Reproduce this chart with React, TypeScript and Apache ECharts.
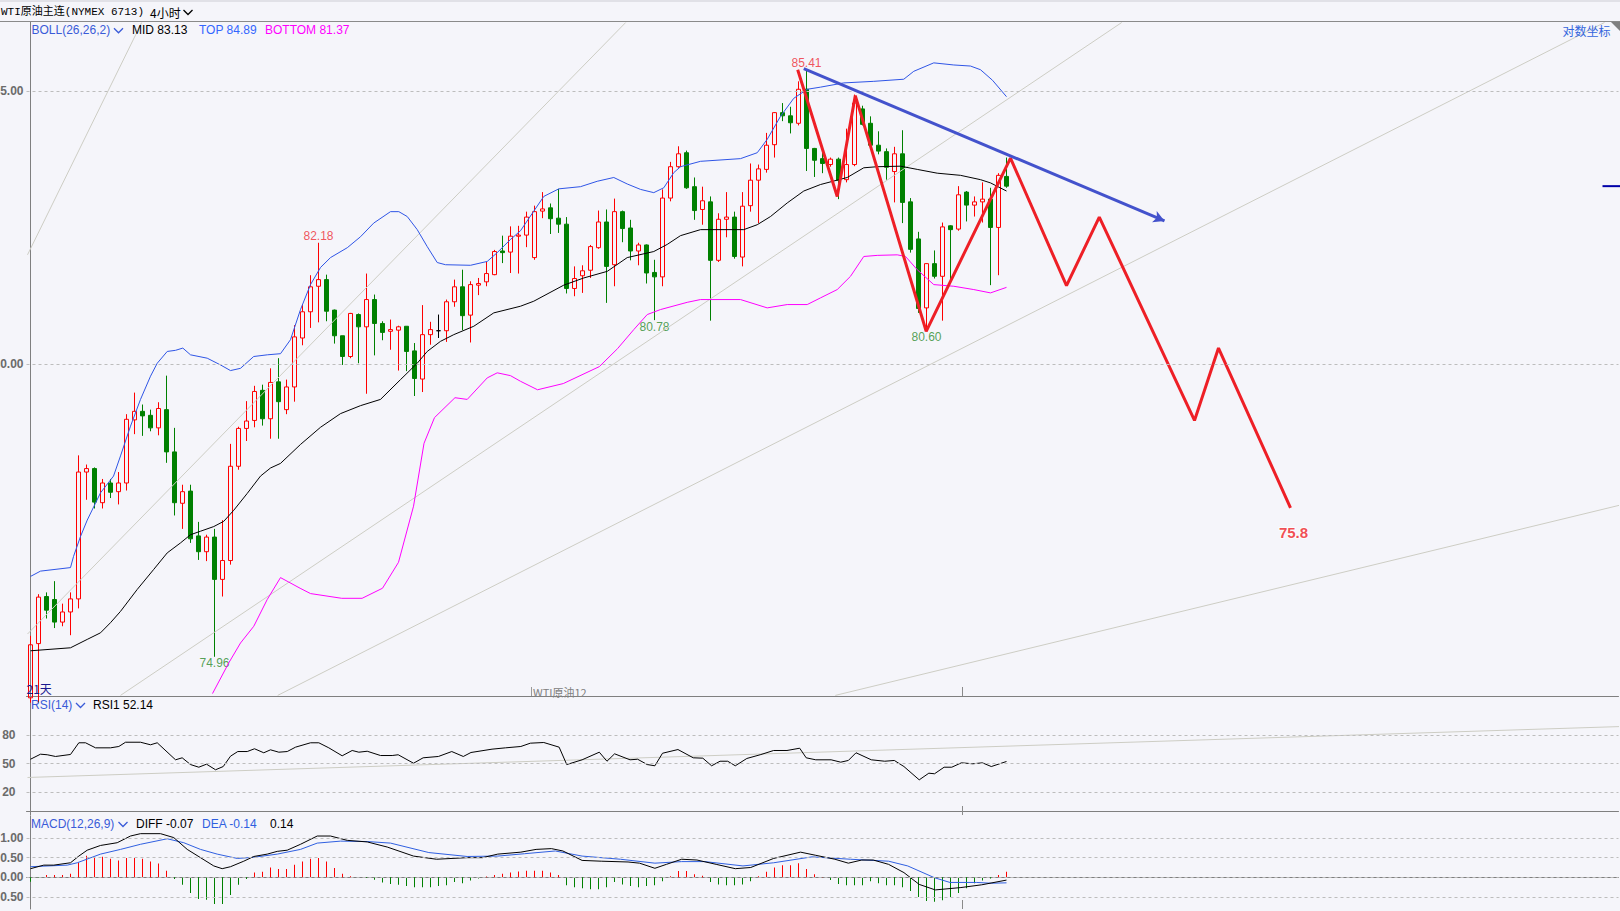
import React, { useEffect, useRef } from "react";
import * as echarts from "echarts";

// ---------- axis setup ----------
const N_SLOTS = 199; // candle slots across the window (8px each)
const PRICE_AXIS = [74.31, 86.31]; // visible price range (log scale)
const RSI_AXIS = [-4.2, 120];
const MACD_AXIS = [-0.805, 1.559];
const PRICE_GRID = [85, 80];
const RSI_GRID = [80, 50, 20];
const MACD_GRID = [1, 0.5, 0, -0.5];

// ---------- candles (4h) ----------
const OPEN = [74.28,75.18,75.97,75.92,75.54,75.71,75.93,78.10,78.16,77.57,77.91,77.76,77.91,79.01,79.16,79.09,78.87,79.19,78.45,77.56,
77.77,77.00,76.73,76.98,76.26,76.58,78.20,78.86,79.00,79.53,79.03,79.68,79.19,79.59,80.46,80.93,81.39,81.51,80.96,80.50,
80.13,80.88,80.66,81.15,80.72,80.58,80.60,80.67,80.23,79.73,80.52,80.59,80.59,81.11,81.38,80.87,81.41,81.47,81.60,82.03,
82.01,82.30,82.32,81.91,82.76,82.82,82.63,82.52,81.35,81.58,81.68,82.09,82.56,81.78,82.75,82.45,82.03,82.14,81.64,81.56,
83.00,83.58,83.84,83.21,82.79,82.93,81.86,82.61,82.65,81.92,82.86,83.33,83.53,83.99,84.59,84.53,84.39,85.03,83.92,83.73,
83.62,83.72,83.34,83.62,84.66,84.39,83.98,83.86,83.49,83.82,82.93,82.25,81.00,81.80,81.57,82.49,82.43,83.11,82.87,82.93,
82.98,82.46,83.40];
const CLOSE = [75.16,75.96,75.74,75.54,75.71,75.93,78.10,78.16,77.58,77.91,77.75,77.91,79.02,79.16,79.08,78.87,79.21,78.45,77.57,77.76,
76.95,76.73,76.98,76.26,76.58,78.20,78.86,78.99,79.51,79.03,79.67,79.33,79.59,80.48,80.93,81.38,81.51,80.94,80.50,80.13,
80.90,80.66,81.15,80.72,80.56,80.61,80.66,80.22,79.74,80.52,80.61,80.59,81.11,81.38,80.86,81.42,81.44,81.62,82.02,82.00,
82.30,82.32,82.65,82.75,82.80,82.62,82.52,81.35,81.53,81.67,82.11,82.56,81.75,82.75,82.44,82.03,82.14,81.63,81.56,83.00,
83.58,83.82,83.19,82.77,82.95,81.86,82.61,82.65,81.93,82.85,83.33,83.54,83.98,84.59,84.53,84.40,85.03,83.92,83.70,83.64,
83.72,83.33,83.62,84.77,84.37,83.98,83.87,83.57,83.82,82.92,82.06,80.99,81.80,81.57,82.47,82.42,83.06,82.87,82.93,82.98,
82.46,83.42,83.22];
const LOW = [74.20,74.20,75.60,75.44,75.47,75.32,75.77,77.62,77.47,77.47,77.65,77.54,77.78,78.76,78.73,78.81,78.74,78.26,77.35,77.12,
76.88,76.59,76.57,74.96,75.97,76.51,78.14,78.64,78.88,78.91,78.68,78.68,79.11,79.33,80.33,80.64,80.74,80.76,80.36,79.98,
80.10,80.01,79.47,80.15,80.42,80.25,79.88,79.87,79.43,79.50,80.34,80.46,80.39,81.02,80.60,80.38,81.23,81.39,81.59,81.81,
81.63,81.62,82.10,81.87,82.63,82.34,82.36,81.26,81.21,81.27,81.54,82.07,81.09,81.39,82.19,81.86,81.77,81.44,80.78,81.39,
82.94,83.56,83.17,82.60,82.51,80.77,81.83,82.28,81.89,81.75,82.75,82.54,83.47,83.75,84.43,84.20,84.35,83.50,83.39,83.46,
83.58,82.98,83.29,83.59,84.35,83.90,83.81,83.34,82.92,82.54,82.00,80.91,80.60,81.53,80.77,81.45,82.40,82.57,82.66,82.55,
81.41,81.59,83.19];
const HIGH = [75.31,76.01,76.04,76.23,75.85,76.04,78.39,78.23,78.18,77.98,77.98,78.10,79.11,79.49,79.28,79.19,79.32,79.79,78.87,77.88,
77.88,77.24,77.02,77.12,77.27,78.59,78.89,79.34,79.61,79.63,79.92,80.10,79.72,80.69,81.05,81.59,82.18,81.60,80.97,80.50,
80.91,80.90,81.62,81.24,80.76,80.79,80.68,80.67,80.37,81.05,80.75,80.88,81.15,81.51,81.69,81.48,81.54,81.83,82.05,82.31,
82.48,82.49,82.75,82.86,83.11,82.90,83.17,82.65,81.75,81.77,82.14,82.77,82.79,82.99,82.77,82.60,82.18,82.15,81.87,83.16,
83.67,83.96,83.88,83.38,83.21,83.03,82.72,83.11,82.75,83.11,83.64,83.62,84.21,84.60,84.77,84.70,85.18,85.41,83.93,83.87,
83.75,83.75,84.29,84.93,84.72,84.52,84.24,83.92,83.95,84.26,83.00,82.38,81.81,82.04,82.55,82.50,83.22,83.13,83.03,83.29,
83.19,83.46,83.75];
const DOJI_INDEX = [51];

// ---------- BOLL(26,26,2): [candle index, price] ----------
const BOLL_UP = [[0,76.31],[1.25,76.40],[5,76.46],[5.38,76.65],[6.25,76.99],[7.09,77.27],[8.75,77.74],[10.38,78.03],[11.25,78.38],[12.5,78.90],
[13.75,79.37],[15,79.78],[15.84,80.01],[17.09,80.22],[18.13,80.24],[19.04,80.28],[20,80.16],[22.09,80.10],[23.75,79.98],[25,79.88],
[26.25,79.92],[27.9,80.13],[29.6,80.16],[31.25,80.18],[32.5,80.43],[33.75,80.97],[35,81.42],[36.25,81.73],[37.5,81.91],[39.6,82.09],
[41.25,82.29],[42.9,82.54],[45,82.75],[46.04,82.75],[47.09,82.66],[48.34,82.42],[49.59,82.11],[50.84,81.82],[51.88,81.78],[55,81.77],
[57.09,81.84],[58.34,82.00],[60,82.24],[61.25,82.40],[64.16,83.03],[66.04,83.17],[68.75,83.21],[70.84,83.31],[72.91,83.38],[74.59,83.26],
[76.25,83.16],[77.91,83.10],[79.16,83.19],[80.41,83.47],[81.25,83.58],[83.75,83.68],[88.75,83.73],[90.84,83.84],[92.09,84.09],[93.75,84.52],
[95.41,84.86],[97.09,85.03],[98.75,85.07],[101.66,85.15],[105.41,85.18],[109.16,85.22],[110.41,85.37],[112.91,85.53],[115.41,85.49],[117.5,85.47],
[118.75,85.40],[120.25,85.20],[122,84.89]];
const BOLL_MID = [[0,75.06],[5,75.11],[7.09,75.25],[8.75,75.36],[10,75.53],[11.25,75.72],[13.34,76.09],[15.41,76.43],[17.09,76.71],[18.75,76.88],
[20,77.02],[21.25,77.08],[22.91,77.16],[24.16,77.25],[25.41,77.44],[27.09,77.73],[28.75,78.03],[30,78.17],[31.25,78.25],[33.75,78.58],
[36.25,78.88],[38.75,79.12],[41.25,79.26],[43.75,79.37],[46.25,79.72],[48.34,80.01],[49.59,80.22],[51.25,80.40],[52.91,80.52],[55.41,80.67],
[57.91,80.91],[61.25,81.03],[62.91,81.12],[66.66,81.41],[69.16,81.54],[72.09,81.66],[74.59,81.91],[77.91,82.02],[79.59,82.15],[81.25,82.31],
[83.75,82.42],[89.16,82.42],[90.84,82.51],[92.5,82.66],[94.59,82.91],[96.66,83.13],[98.75,83.25],[102.09,83.38],[104.16,83.56],[105.84,83.58],
[108.75,83.59],[110.84,83.53],[113.34,83.46],[116.25,83.42],[118.75,83.34],[120,83.28],[122,83.13]];
const BOLL_LOW = [[22.75,74.35],[24.79,74.86],[26.25,75.19],[27.91,75.47],[29.59,75.92],[31.25,76.29],[33.7,76.11],[35,76.02],[38.9,75.94],[41.45,75.94],
[44,76.11],[46,76.55],[47.88,77.51],[49.19,78.60],[50.5,79.05],[53.06,79.40],[54.59,79.37],[57.09,79.75],[58.34,79.84],[60,79.79],
[61.25,79.69],[63.38,79.54],[66.6,79.65],[71.1,79.95],[73.38,80.27],[75.41,80.61],[77.09,80.88],[78.75,80.97],[82.09,81.10],[83.75,81.15],
[88.75,81.15],[92.09,81.00],[94.59,81.06],[97.09,81.06],[98.75,81.18],[100.84,81.33],[102.5,81.57],[104.16,81.93],[105.84,81.95],[108.34,81.96],
[109.38,81.93],[110.84,81.69],[112.91,81.42],[115.41,81.39],[117.91,81.33],[120,81.27],[122,81.37]];

// ---------- RSI(14) ----------
const RSI = [[0,54.5],[1.25,59.8],[2.09,59.2],[3.13,57.4],[5,59.5],[6.04,71.8],[6.88,71.8],[8.13,66.5],[10,66.5],[11.04,67.9],
[11.88,72.4],[13.75,72.4],[15,69.7],[15.84,71.8],[18.13,53.9],[18.96,56.0],[20,48.9],[21.04,46.1],[22,49.3],[23.13,43.4],
[24.09,46.8],[25,57.7],[25.91,62.6],[27.09,62.6],[28,65.5],[29.16,61.3],[30,64.4],[31.04,61.9],[32.09,62.6],[33.13,67.2],
[35,71.8],[36.04,71.8],[37.29,66.5],[38.96,58.1],[40.21,63.7],[41.04,61.9],[42.09,62.9],[43.75,58.4],[45.21,58.4],[45.96,59.2],
[47.88,50.3],[49.08,56.0],[50.99,57.4],[52.66,62.6],[54.1,57.4],[55.06,61.6],[57.69,65.1],[59.38,66.5],[61.29,67.9],[62.48,71.4],
[64.16,72.1],[66.08,67.2],[67.03,48.9],[68.95,53.9],[71.1,61.9],[72.06,52.4],[73.01,60.2],[74.94,53.9],[75.89,54.5],[77.09,48.9],
[78.05,47.6],[79,60.8],[80.93,64.7],[82.84,56.0],[84.04,55.6],[85.14,47.6],[86.19,52.4],[87.15,52.4],[88.1,47.6],[89.54,55.3],
[91.21,59.2],[92.89,63.7],[94.56,63.7],[96.15,66.1],[96.96,56.0],[98.16,53.9],[100.08,53.9],[101.28,51.4],[102.23,53.2],[103.19,61.3],
[105.1,53.9],[106.78,52.4],[107.98,53.2],[109.18,46.8],[111.09,32.8],[112.29,39.8],[113,39.2],[114.2,46.1],[115.16,46.1],[116.36,50.7],
[117.79,49.7],[118.99,50.7],[120.1,46.8],[122,52.14]];

// ---------- MACD(12,26,9) ----------
const DIFF = [[0,0.22],[1.66,0.31],[2.91,0.31],[5,0.37],[6.04,0.54],[7.09,0.69],[8.75,0.81],[10.84,0.88],[12.5,1.05],[13.75,1.11],
[16.25,1.11],[17.91,1.01],[19.59,0.71],[21.25,0.50],[22.91,0.29],[23.96,0.22],[25,0.27],[26.66,0.41],[27.91,0.53],[29.59,0.59],
[30.84,0.66],[32.09,0.69],[33.75,0.84],[35.84,1.05],[37.5,1.05],[39.59,0.94],[42.09,0.90],[44.59,0.77],[47.88,0.54],[50.75,0.46],
[54.58,0.50],[56.5,0.50],[58.41,0.59],[61.29,0.64],[63.2,0.71],[65.11,0.73],[66.55,0.67],[68.95,0.43],[71.34,0.41],[74.69,0.39],
[76.13,0.36],[78.05,0.23],[79.49,0.33],[81.4,0.46],[83.31,0.44],[85.71,0.33],[88.1,0.22],[90.03,0.25],[92.89,0.48],[96.25,0.64],
[98.16,0.56],[100.55,0.46],[102.23,0.36],[103.91,0.44],[105.34,0.44],[107.26,0.33],[109.18,0.12],[111.09,-0.18],[113.1,-0.32],[116.3,-0.26],
[118.9,-0.19],[122,-0.07]];
const DEA = [[0,0.27],[4.59,0.31],[5.84,0.37],[8.75,0.59],[11.25,0.71],[13.75,0.84],[17.09,0.98],[19.16,0.88],[21.25,0.71],[23.34,0.59],
[25.84,0.48],[27.91,0.51],[30.84,0.59],[33.75,0.71],[35.84,0.87],[38.75,0.92],[42.09,0.91],[45,0.87],[49.79,0.63],[54.58,0.53],
[58.41,0.54],[61.75,0.60],[65.6,0.67],[68.95,0.54],[73.74,0.46],[78.05,0.36],[81.4,0.40],[84.28,0.40],[89.06,0.29],[92.89,0.37],
[97.69,0.52],[102.48,0.46],[107.26,0.41],[109.65,0.29],[113,-0.01],[114.93,-0.13],[118.28,-0.13],[120.1,-0.15],[122,-0.14]];
const MACD_HIST = [-0.11,-0.02,0.06,0.06,0.06,0.09,0.38,0.55,0.50,0.52,
0.47,0.43,0.49,0.49,0.47,0.40,0.35,0.17,-0.04,-0.19,
-0.40,-0.55,-0.57,-0.68,-0.68,-0.45,-0.19,-0.04,0.12,0.14,
0.25,0.21,0.21,0.32,0.40,0.47,0.49,0.40,0.24,0.09,
0.03,0.01,-0.02,-0.06,-0.13,-0.17,-0.19,-0.22,-0.25,-0.25,
-0.25,-0.22,-0.20,-0.12,-0.15,-0.08,-0.03,0.02,0.06,0.09,
0.12,0.15,0.17,0.17,0.17,0.12,0.06,-0.20,-0.25,-0.28,
-0.30,-0.30,-0.25,-0.12,-0.18,-0.22,-0.25,-0.22,-0.20,-0.10,
0.03,0.16,0.16,0.08,0.04,-0.12,-0.18,-0.20,-0.20,-0.18,
-0.10,0.03,0.14,0.25,0.31,0.31,0.36,0.21,0.08,0.01,
-0.07,-0.17,-0.20,-0.20,-0.20,-0.10,-0.15,-0.20,-0.20,-0.25,
-0.35,-0.50,-0.60,-0.62,-0.58,-0.50,-0.40,-0.28,-0.15,-0.08,
-0.03,0.06,0.14];

// ---------- drawn annotations ----------
const PEAK_LABELS = [
  { index: 97, price: 85.41, side: "top" },
  { index: 36, price: 82.18, side: "top" },
  { index: 23, price: 74.96, side: "bottom" },
  { index: 78, price: 80.78, side: "bottom" },
  { index: 112, price: 80.6, side: "bottom" },
];
// [x1, price1, x2, price2]
const CHANNEL_LINES = [
  [-0.375, 81.96, 13.9, 86.3],
  [-0.375, 75.34, 74.4, 86.3],
  [11.25, 74.32, 136.4, 86.3],
  [30.9, 74.32, 196.75, 86.3],
  [100.6, 74.32, 198.75, 77.53],
];
const RSI_CHANNEL = [-0.375, 35.3, 198.75, 88.9];
const TREND_ARROW = [96.66, 85.42, 141.75, 82.58];
const ZIGZAG_X = [95.9, 100.84, 103.1, 111.96, 122.5, 129.5, 133.6, 145.5, 148.5, 157.5];
const ZIGZAG_P = [85.4, 83.03, 84.91, 80.58, 83.74, 81.4, 82.65, 79.0, 80.28, 77.48];
const TARGET_TEXT = "75.8";
const LAST_MARK = [196.5, 198.75];

const L = (p: number) => Math.log(p);
const last = (a: number[][]) => a[a.length - 1][1];

const RED = "#ff0000";
const GREEN = "#008000";
const FONT = '12px "Liberation Sans", Arial, sans-serif';
const CJK = '12px "Noto Sans CJK SC", sans-serif';

function buildOption() {
  const slots = Array.from({ length: N_SLOTS }, (_, i) => String(i));
  const grids = [
    { left: 26.5, right: 1.5, top: 22, height: 674 },
    { left: 26.5, right: 1.5, top: 697, height: 118 },
    { left: 26.5, right: 1.5, top: 816, height: 93 },
  ];
  const axisLine = { show: true, lineStyle: { color: "#7f7f7f", width: 1 } };
  const xAxis: any[] = [];
  for (let g = 0; g < 3; g++) {
    xAxis.push({
      type: "category", gridIndex: g, data: slots, boundaryGap: true,
      axisLine, axisTick: { show: false }, axisLabel: { show: false }, splitLine: { show: false },
    });
  }
  for (let g = 0; g < 3; g++) {
    xAxis.push({ type: "value", gridIndex: g, min: -0.5, max: N_SLOTS - 0.5, show: false });
  }
  const yBase = { type: "value", axisLine, axisTick: { show: false }, axisLabel: { show: false }, splitLine: { show: false } };
  const yAxis = [
    { ...yBase, gridIndex: 0, min: L(PRICE_AXIS[0]), max: L(PRICE_AXIS[1]) },
    { ...yBase, gridIndex: 1, min: RSI_AXIS[0], max: RSI_AXIS[1] },
    { ...yBase, gridIndex: 2, min: MACD_AXIS[0], max: MACD_AXIS[1] },
  ];

  const gridLine = (values: number[], fmt: (v: number) => string, tr: (v: number) => number, dist: number) => ({
    silent: true, symbol: "none", animation: false, precision: 10,
    lineStyle: { color: "#bdbdbd", type: [3, 3], width: 1 },
    label: { position: "start", distance: dist, color: "#6b6b6b", fontSize: 12, fontWeight: "bold", fontFamily: "Liberation Sans" },
    data: values.map((v) => ({ yAxis: tr(v), label: { formatter: fmt(v) } })),
  });

  const series: any[] = [];
  CHANNEL_LINES.forEach((c, k) => {
    series.push({
      type: "line", xAxisIndex: 3, yAxisIndex: 0, symbol: "none", silent: true,
      data: [[c[0], L(c[1])], [c[2], L(c[3])]],
      lineStyle: { color: "#cdcdc4", width: 1 },
      markLine: k === 0 ? gridLine(PRICE_GRID, (v) => v.toFixed(2), L, 3) : undefined,
    });
  });

  series.push({
    type: "candlestick", xAxisIndex: 0, yAxisIndex: 0, barWidth: 5,
    itemStyle: { color: "transparent", color0: GREEN, borderColor: RED, borderColor0: GREEN, borderWidth: 1 },
    data: OPEN.map((o, i) => {
      const v = [L(o), L(CLOSE[i]), L(LOW[i]), L(HIGH[i])];
      if (DOJI_INDEX.includes(i)) {
        return { value: v, itemStyle: { color: "#000", color0: "#000", borderColor: "#000", borderColor0: "#000" } };
      }
      return v;
    }),
  });

  const priceLine = (data: number[][], color: string) => ({
    type: "line", xAxisIndex: 3, yAxisIndex: 0, symbol: "none", silent: true,
    data: data.map((d) => [d[0], L(d[1])]), lineStyle: { color, width: 1 },
  });
  series.push(priceLine(BOLL_UP, "#2f55e6"));
  series.push(priceLine(BOLL_MID, "#000000"));
  series.push(priceLine(BOLL_LOW, "#ff00ff"));

  series.push({
    type: "line", xAxisIndex: 3, yAxisIndex: 0, symbol: "none", silent: true,
    data: ZIGZAG_X.map((x, i) => [x, L(ZIGZAG_P[i])]),
    lineStyle: { color: "#ee1f26", width: 3 },
    markLine: {
      silent: true, animation: false, precision: 10, symbol: ["none", "arrow"], symbolSize: [9, 11],
      lineStyle: { color: "#4352cc", width: 3, type: "solid" },
      itemStyle: { color: "#4352cc" },
      label: { show: false },
      data: [[{ coord: [TREND_ARROW[0], L(TREND_ARROW[1])] }, { coord: [TREND_ARROW[2], L(TREND_ARROW[3])] }]],
    },
  });

  series.push({
    type: "line", xAxisIndex: 3, yAxisIndex: 0, symbol: "none", silent: true,
    data: LAST_MARK.map((x) => [x, L(CLOSE[CLOSE.length - 1])]),
    lineStyle: { color: "#0000a8", width: 2 },
  });

  const labelItems: any[] = PEAK_LABELS.map((p) => ({
    value: [p.index, L(p.price)],
    label: {
      show: true, formatter: p.price.toFixed(2), position: p.side, distance: 0,
      color: p.side === "top" ? "#ee2a33" : "#2b8a2b", fontSize: 12, fontFamily: "Liberation Sans",
    },
  }));
  labelItems.push({
    value: [ZIGZAG_X[ZIGZAG_X.length - 1], L(ZIGZAG_P[ZIGZAG_P.length - 1])],
    label: {
      show: true, formatter: TARGET_TEXT, position: "bottom", distance: 17, offset: [3, 0],
      color: "#ee1f26", fontSize: 15, fontWeight: "bold", fontFamily: "Liberation Sans",
      textBorderColor: "rgba(255,255,255,0.9)", textBorderWidth: 2,
    },
  });
  series.push({
    type: "scatter", xAxisIndex: 3, yAxisIndex: 0, symbolSize: 1, silent: true,
    itemStyle: { color: "transparent" }, data: labelItems, clip: false,
  });

  // RSI pane
  series.push({
    type: "line", xAxisIndex: 4, yAxisIndex: 1, symbol: "none", silent: true,
    data: [[RSI_CHANNEL[0], RSI_CHANNEL[1]], [RSI_CHANNEL[2], RSI_CHANNEL[3]]],
    lineStyle: { color: "#cdcdc4", width: 1 },
    markLine: gridLine(RSI_GRID, (v) => String(v), (v) => v, 11),
  });
  series.push({
    type: "line", xAxisIndex: 4, yAxisIndex: 1, symbol: "none", silent: true,
    data: RSI, lineStyle: { color: "#000", width: 1 },
  });

  // MACD pane
  series.push({
    type: "bar", xAxisIndex: 2, yAxisIndex: 2, barWidth: 1, silent: true,
    data: MACD_HIST.map((v) => ({ value: v, itemStyle: { color: v >= 0 ? RED : GREEN } })),
    markLine: gridLine(MACD_GRID, (v) => v.toFixed(2), (v) => v, 3),
  });
  series.push({
    type: "line", xAxisIndex: 5, yAxisIndex: 2, symbol: "none", silent: true,
    data: DEA, lineStyle: { color: "#2f5fe0", width: 1 },
  });
  series.push({
    type: "line", xAxisIndex: 5, yAxisIndex: 2, symbol: "none", silent: true,
    data: DIFF, lineStyle: { color: "#000", width: 1 },
  });

  const txt = (x: number, y: number, text: string, fill: string, font = FONT) => ({
    type: "text", x, y, z: 100, silent: true,
    style: { text, fill, font, align: "left", verticalAlign: "middle" },
  });
  const chevron = (x: number, y: number, color: string) => ({
    type: "polyline", z: 100, silent: true,
    shape: { points: [[x, y], [x + 4.5, y + 4.5], [x + 9, y]] },
    style: { stroke: color, lineWidth: 1.3, fill: "none" },
  });
  const vline = (x: number, y1: number, y2: number, color = "#8a8a8a") => ({
    type: "line", z: 100, silent: true, shape: { x1: x, y1, x2: x, y2 }, style: { stroke: color, lineWidth: 1 },
  });
  const lastHist = MACD_HIST[MACD_HIST.length - 1];

  const graphic = [
    { type: "rect", z: 99, silent: true, shape: { x: 0, y: 0, width: 1620, height: 2 }, style: { fill: "#e1e1e7" } },
    { type: "line", z: 100, silent: true, shape: { x1: 0, y1: 21.5, x2: 1620, y2: 21.5 }, style: { stroke: "#8a8a8a", lineWidth: 1 } },
    txt(1, 12, "WTI原油主连(NYMEX 6713)", "#000", '11px "Liberation Mono", "Noto Sans CJK SC", monospace'),
    txt(150, 12, "4小时", "#000", CJK),
    chevron(183.5, 10, "#000"),
    txt(31.5, 30, "BOLL(26,26,2)", "#3a5bd8"),
    chevron(114, 28.3, "#3a5bd8"),
    txt(132, 30, "MID " + last(BOLL_MID).toFixed(2), "#000"),
    txt(199, 30, "TOP " + last(BOLL_UP).toFixed(2), "#3366ff"),
    txt(265, 30, "BOTTOM " + last(BOLL_LOW).toFixed(2), "#ff00ff"),
    txt(1562.5, 30, "对数坐标", "#3366dd", CJK),
    { type: "polygon", z: 100, silent: true, shape: { points: [[1611, 22], [1620, 22], [1620, 31]] }, style: { fill: "#808080" } },
    txt(26.5, 688, "21天", "#1a1a90", CJK),
    vline(531.5, 687, 696, "#999"),
    txt(533, 692, "WTI原油12", "#808080", '11px "Noto Sans CJK SC", sans-serif'),
    vline(962.5, 687, 696),
    vline(962.5, 806, 815),
    vline(962.5, 900, 909),
    txt(31, 704.5, "RSI(14)", "#3a5bd8"),
    chevron(76, 703, "#3a5bd8"),
    txt(93, 704.5, "RSI1 " + last(RSI).toFixed(2), "#000"),
    txt(31, 823.5, "MACD(12,26,9)", "#3a5bd8"),
    chevron(118.5, 822, "#3a5bd8"),
    txt(136, 823.5, "DIFF " + last(DIFF).toFixed(2), "#000"),
    txt(202, 823.5, "DEA " + last(DEA).toFixed(2), "#2f5fe0"),
    txt(270, 823.5, lastHist.toFixed(2), "#000"),
  ];

  return {
    animation: false,
    backgroundColor: "#f5f5fa",
    grid: grids,
    xAxis,
    yAxis,
    series,
    graphic,
  };
}

export default function App() {
  const ref = useRef<HTMLDivElement>(null);
  useEffect(() => {
    if (!ref.current) return;
    const chart = echarts.init(ref.current, undefined, { renderer: "svg" });
    chart.setOption(buildOption() as any);
    return () => chart.dispose();
  }, []);
  return (
    <div
      ref={ref}
      style={{ position: "fixed", left: 0, top: 0, width: 1620, height: 911, background: "#f5f5fa" }}
    />
  );
}
